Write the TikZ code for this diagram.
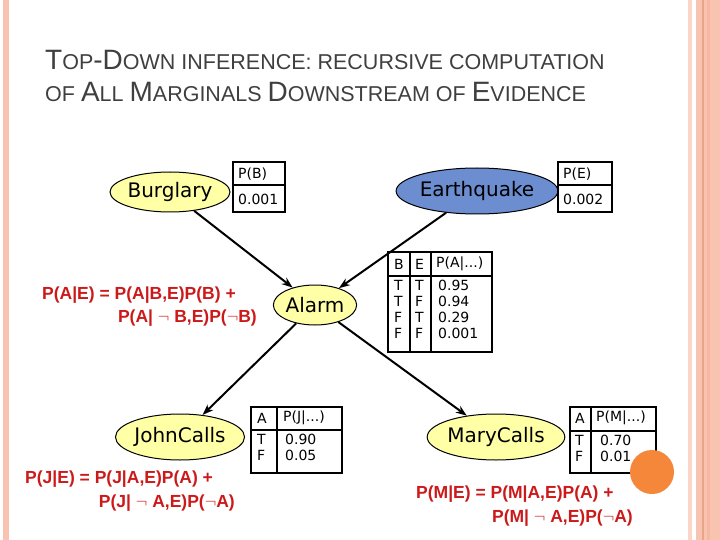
\documentclass[tikz,border=0pt]{standalone}
\usepackage{fontspec}
\setmainfont{Liberation Sans}
\newfontfamily\nodefont{DejaVu Sans}
\usetikzlibrary{shapes.geometric,arrows.meta}
\definecolor{bny}{HTML}{FFFFA6}
\definecolor{eqblue}{HTML}{6C8ED0}
\definecolor{formred}{HTML}{CC1A1A}
\definecolor{titlegray}{HTML}{3F3F3F}
\definecolor{pinkbar}{HTML}{F8C3B0}
\definecolor{pinkdark}{HTML}{E9A58A}
\definecolor{orangedot}{HTML}{F5873A}
\tikzset{
  bn/.style={ellipse,draw,line width=1pt,inner sep=0pt,font=\nodefont\fontsize{20}{22}\selectfont},
  cpt/.style={draw,line width=2.6pt},
  cell/.style={font=\nodefont\fontsize{14}{16}\selectfont,inner sep=0pt,anchor=west},
  formula/.style={text=formred,font=\bfseries\fontsize{17.5}{20}\selectfont,inner sep=0pt},
  arr/.style={line width=2pt,-{Stealth[length=11pt,width=8pt]}},
  ttl/.style={text=titlegray,inner sep=0pt,anchor=base west}
}
\newcommand{\BIG}[1]{{\fontsize{28}{30}\selectfont #1}}
\newcommand{\SM}[1]{{\fontsize{21.5}{23}\selectfont #1}}
\begin{document}
\begin{tikzpicture}[x=1pt,y=-1pt]
\useasboundingbox (0,0) rectangle (720,540);
% borders
\fill[pinkbar] (3,0) rectangle (9,540);
\fill[pinkbar!70] (688,0) rectangle (692,540);
\fill[pinkbar] (696,0) rectangle (720,540);
\fill[pinkdark] (702,0) rectangle (703.5,540);
\fill[pinkbar!120] (707,0) rectangle (710,540);
% title
\node[ttl] (t1) at (45,70) {\BIG{T}\SM{OP}\BIG{-D}\SM{OWN INFERENCE: RECURSIVE COMPUTATION}};
\node[ttl] (t2) at (45,102) {\SM{OF }\BIG{A}\SM{LL }\BIG{M}\SM{ARGINALS }\BIG{D}\SM{OWNSTREAM OF }\BIG{E}\SM{VIDENCE}};
% nodes
\node[bn,fill=bny,minimum width=104,minimum height=40] (b) at (170,192) {Burglary};
\node[bn,fill=eqblue,minimum width=142,minimum height=46] (e) at (477,191) {Earthquake};
\node[bn,fill=bny,minimum width=76,minimum height=40] (a) at (315,305) {Alarm};
\node[bn,fill=bny,minimum width=122,minimum height=46] (j) at (180,437) {JohnCalls};
\node[bn,fill=bny,minimum width=126,minimum height=46] (m) at (496,437) {MaryCalls};
\draw[arr] (b) -- (a);
\draw[arr] (e) -- (a);
\draw[arr] (a) -- (j);
\draw[arr] (a) -- (m);
% P(B)
\draw[cpt] (233,162) rectangle (285,212);
\draw[cpt] (233,185) -- (285,185);
\node[cell] (pb1) at (238,174) {P(B)};
\node[cell] (pb2) at (238,199) {0.001};
% P(E)
\draw[cpt] (558,162) rectangle (612,212);
\draw[cpt] (558,185) -- (612,185);
\node[cell] (pe1) at (563,174) {P(E)};
\node[cell] (pe2) at (563,199) {0.002};
% Alarm CPT
\draw[cpt] (388,252) rectangle (492,352);
\draw[cpt] (388,276) -- (492,276);
\draw[cpt] (410,252) -- (410,352);
\draw[cpt] (431,252) -- (431,352);
\node[cell] (ah1) at (394,264) {B};
\node[cell] (ah2) at (415,264) {E};
\node[cell] (ah3) at (436,264) {P(A|...)};
\node[cell,align=left,anchor=north west] (ac1) at (394,280) {T\\T\\F\\F};
\node[cell,align=left,anchor=north west] (ac2) at (415,280) {T\\F\\T\\F};
\node[cell,align=left,anchor=north west] (ac3) at (438,280) {0.95\\0.94\\0.29\\0.001};
% J CPT
\draw[cpt] (251,407) rectangle (342,473);
\draw[cpt] (251,430) -- (342,430);
\draw[cpt] (277,407) -- (277,473);
\node[cell] (jh1) at (257,418) {A};
\node[cell] (jh2) at (283,418) {P(J|...)};
\node[cell,align=left,anchor=north west] (jc1) at (257,434) {T\\F};
\node[cell,align=left,anchor=north west] (jc2) at (285,434) {0.90\\0.05};
% M CPT
\draw[cpt] (570,407) rectangle (656,473);
\draw[cpt] (570,431) -- (656,431);
\draw[cpt] (591,407) -- (591,473);
\node[cell] (mh1) at (575,418) {A};
\node[cell] (mh2) at (596,418) {P(M|...)};
\node[cell,align=left,anchor=north west] (mc1) at (575,435) {T\\F};
\node[cell,align=left,anchor=north west] (mc2) at (600,435) {0.70\\0.01};
\fill[orangedot] (652,472) circle (22);
% formulas
\node[formula,anchor=base west] (fa1) at (42,299) {P(A|E) = P(A|B,E)P(B) +};
\node[formula,anchor=base east] (fa2) at (257,322) {P(A| $\neg$ B,E)P($\neg$B)};
\node[formula,anchor=base west] (fj1) at (25,483) {P(J|E) = P(J|A,E)P(A) +};
\node[formula,anchor=base east] (fj2) at (235,507) {P(J| $\neg$ A,E)P($\neg$A)};
\node[formula,anchor=base west] (fm1) at (416,498) {P(M|E) = P(M|A,E)P(A) +};
\node[formula,anchor=base east] (fm2) at (633,522) {P(M| $\neg$ A,E)P($\neg$A)};
\end{tikzpicture}
\end{document}
